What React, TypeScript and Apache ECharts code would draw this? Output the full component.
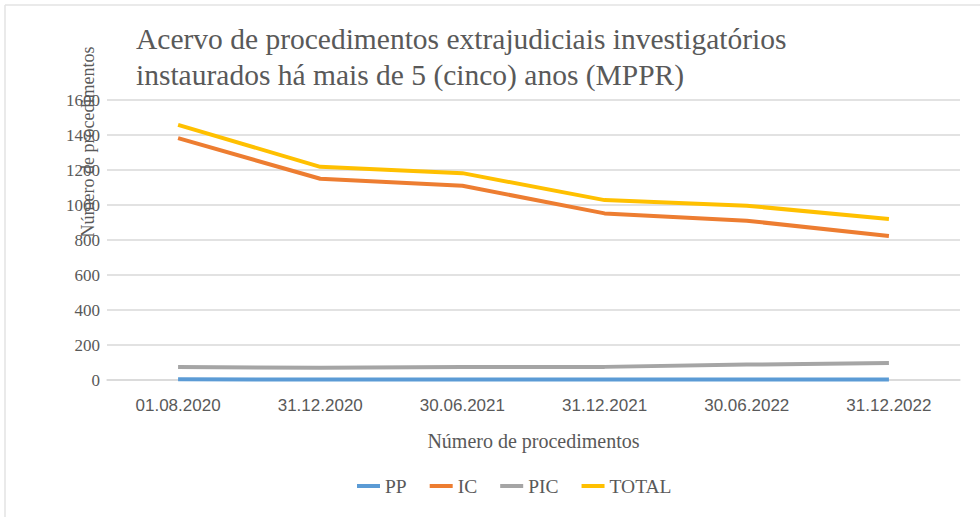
import React, { useEffect, useRef } from "react";
import * as echarts from "echarts";

const categories = ["01.08.2020", "31.12.2020", "30.06.2021", "31.12.2021", "30.06.2022", "31.12.2022"];
const ppValues = [4, 3, 3, 3, 3, 3];
const icValues = [1382, 1150, 1110, 952, 910, 823];
const picValues = [74, 70, 74, 75, 88, 97];
const totalValues = [1458, 1218, 1182, 1028, 996, 920];
const yTicks = { min: 0, max: 1600, interval: 200 };

const SERIF = "'Liberation Serif', 'Times New Roman', serif";
const SANS = "'Liberation Sans', Arial, sans-serif";
const GRAY = "#595959";

export default function App() {
  const ref = useRef<HTMLDivElement>(null);
  useEffect(() => {
    document.body.style.margin = "0";
    const chart = echarts.init(ref.current!, undefined, { renderer: "svg" });
    const mk = (name: string, data: number[], color: string) => ({
      name,
      type: "line",
      data,
      symbol: "none",
      lineStyle: { width: 4, color },
      itemStyle: { color },
    });
    chart.setOption({
      animation: false,
      backgroundColor: "#ffffff",
      title: {
        text: "Acervo de procedimentos extrajudiciais investigatórios\ninstaurados há mais de 5 (cinco) anos (MPPR)",
        left: 131,
        top: 16,
        textStyle: { fontFamily: SERIF, fontSize: 29.5, fontWeight: "normal", color: GRAY, lineHeight: 36 },
      },
      grid: { left: 107, right: 20, top: 100, bottom: 137 },
      legend: {
        bottom: 16,
        left: 352,
        itemWidth: 23,
        itemHeight: 4,
        itemGap: 23,
        icon: "rect",
        textStyle: { fontFamily: SERIF, fontSize: 19.5, color: GRAY },
        data: ["PP", "IC", "PIC", "TOTAL"],
      },
      xAxis: {
        type: "category",
        data: categories,
        boundaryGap: true,
        name: "Número de procedimentos",
        nameLocation: "middle",
        nameGap: 51,
        nameTextStyle: { fontFamily: SERIF, fontSize: 20, color: GRAY },
        axisLine: { lineStyle: { color: "#d9d9d9", width: 1.5 } },
        axisTick: { show: false },
        axisLabel: { fontFamily: SANS, fontSize: 17, color: GRAY, margin: 17 },
      },
      yAxis: {
        type: "value",
        min: yTicks.min,
        max: yTicks.max,
        interval: yTicks.interval,
        axisLine: { show: false },
        axisTick: { show: false },
        axisLabel: { fontFamily: SERIF, fontSize: 17, color: GRAY, margin: 7, formatter: (v: number) => String(v) },
        splitLine: { lineStyle: { color: "#d9d9d9", width: 1.5 } },
      },
      graphic: [
        {
          type: "line",
          shape: { x1: 5, y1: 5, x2: 980, y2: 5 },
          style: { stroke: "#e3e3e3", lineWidth: 1.5 },
        },
        {
          type: "line",
          shape: { x1: 5, y1: 5, x2: 5, y2: 517 },
          style: { stroke: "#e3e3e3", lineWidth: 1.5 },
        },
        {
          type: "text",
          x: 88,
          y: 142,
          rotation: Math.PI / 2,
          style: {
            text: "Número de procedimentos",
            fontFamily: SERIF,
            fontSize: 18,
            fill: GRAY,
            align: "center",
            verticalAlign: "middle",
          },
        },
      ],
      series: [
        mk("PP", ppValues, "#5B9BD5"),
        mk("IC", icValues, "#ED7D31"),
        mk("PIC", picValues, "#A5A5A5"),
        mk("TOTAL", totalValues, "#FFC000"),
      ],
    });
    return () => chart.dispose();
  }, []);
  return <div ref={ref} style={{ width: 980, height: 517 }} />;
}
